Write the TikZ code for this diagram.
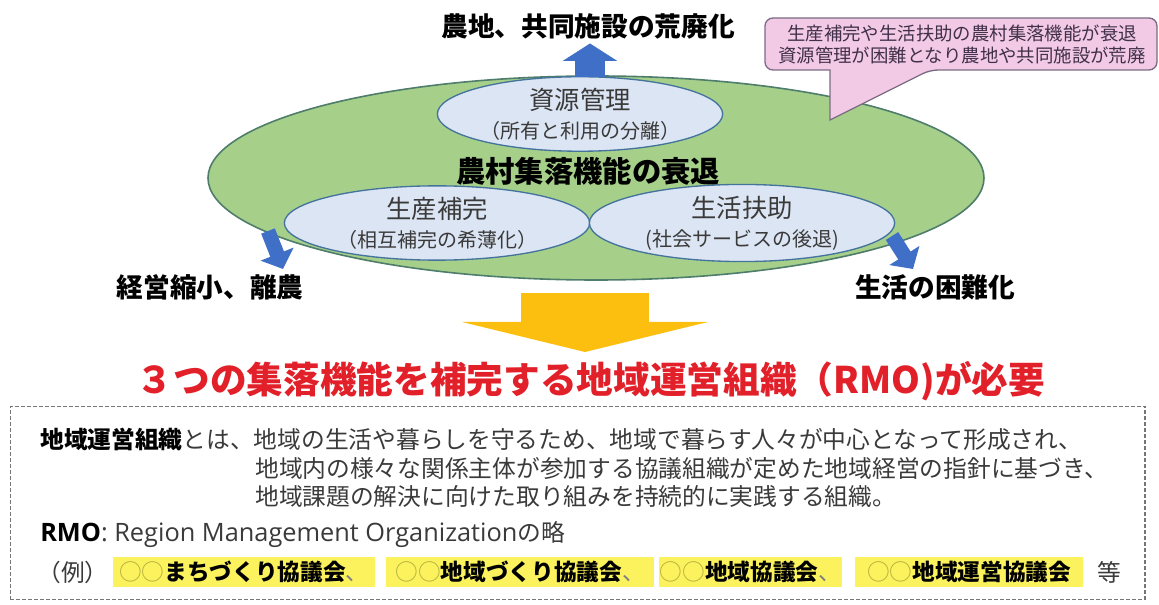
\documentclass[tikz,border=0pt]{standalone}
\usepackage{fontspec}
\setmainfont{Noto Sans CJK JP}
\newfontfamily\latinfont{Open Sans}
\usetikzlibrary{shapes.geometric,arrows.meta}
\definecolor{ruralgreen}{HTML}{A6D08A}
\definecolor{ruraledge}{HTML}{4E7D6B}
\definecolor{funcblue}{HTML}{DCE5F3}
\definecolor{funcedge}{HTML}{44739C}
\definecolor{arrowblue}{HTML}{3F6FC6}
\definecolor{arrowgold}{HTML}{FDBF0F}
\definecolor{notepink}{HTML}{F3CAE5}
\definecolor{noteedge}{HTML}{7B6B82}
\definecolor{notetext}{HTML}{40304A}
\definecolor{needred}{HTML}{E2202A}
\definecolor{markyellow}{HTML}{FBF25E}
\definecolor{circleolive}{HTML}{B3AC3C}
\definecolor{bodygray}{HTML}{3A3A3A}
\definecolor{framegray}{HTML}{767676}

\begin{document}
\begin{tikzpicture}[x=0.75pt,y=-0.75pt,
  rural/.style={ellipse,draw=ruraledge,fill=ruralgreen,line width=1.2pt,
    minimum width=582pt,minimum height=153pt},
  func/.style={ellipse,draw=funcedge,fill=funcblue,line width=1pt,inner sep=0pt,
    minimum height=50pt,align=center,text=bodygray,font=\fontsize{19}{22}\selectfont},
  effect/.style={font=\bfseries\fontsize{20}{24}\selectfont},
  upblue/.style={arrowblue,line width=22pt,-{Triangle[width=40pt,length=13pt]}},
  outblue/.style={arrowblue,line width=11pt,-{Triangle[width=26pt,length=12pt]}},
  goldflow/.style={arrowgold,line width=96pt,-{Triangle[width=184pt,length=22.5pt]}},
  notebox/.style={fill=notepink,draw=noteedge,line width=1pt},
  frame/.style={draw=framegray,line width=1pt,dash pattern=on 3pt off 1.5pt,
    minimum width=851pt,minimum height=145pt},
  body/.style={anchor=west,inner sep=0pt,text=bodygray,font=\fontsize{17.8}{21}\selectfont},
  hilite/.style={anchor=west,fill=markyellow,inner sep=0pt,minimum height=22.5pt,
    text=black,font=\fontsize{17}{20}\selectfont}]
  \useasboundingbox (0,0) rectangle (1159,605);

  % ellipses
  \node[rural] (rural) at (596,178) {};
  \node[func,minimum width=214pt] (res) at (580,114)
    {資源管理\\\fontsize{15}{18}\selectfont （所有と利用の分離）};
  \node[func,minimum width=229pt] (prod) at (437,223)
    {生産補完\\\fontsize{15}{18}\selectfont （相互補完の希薄化）};
  \node[func,minimum width=229pt] (life) at (742,223)
    {生活扶助\\\fontsize{15}{18}\selectfont (社会サービスの後退)};
  \node[font=\bfseries\fontsize{22}{26}\selectfont] (decline) at (588,171) {農村集落機能の衰退};

  % effects
  \node[effect] (ruin) at (588,26) {農地、共同施設の荒廃化};
  \node[effect] (quit) at (210,287) {経営縮小、離農};
  \node[effect] (hard) at (935,287) {生活の困難化};

  \coordinate (upfoot) at (590,77);
  \coordinate (lfoot) at (268,231);
  \coordinate (ltip) at (283,269);
  \coordinate (rfoot) at (892,236);
  \coordinate (rtip) at (913,269);
  \draw[upblue] (upfoot) -- (upfoot |- ruin.south);
  \draw[outblue] (lfoot) -- (ltip);
  \draw[outblue] (rfoot) -- (rtip);

  % balloon
  \filldraw[notebox] (830,120) -- (830,70) [rounded corners=6pt] -- (765,70) -- (765,18)
    -- (1157,18) -- (1157,70) -- (930,70) [sharp corners] -- cycle;
  \node[align=center,text=notetext,font=\fontsize{13.8}{16.5}\selectfont] (note) at (962,44)
    {生産補完や生活扶助の農村集落機能が衰退\\資源管理が困難となり農地や共同施設が荒廃};

  % need
  \coordinate (flowtop) at (585,293);
  \coordinate (flowtip) at (585,352);
  \draw[goldflow] (flowtop) -- (flowtip);
  \node[text=needred,font=\bfseries\fontsize{27.5}{32}\selectfont] (need) at (591,381)
    {３つの集落機能を補完する地域運営組織（RMO)が必要};

  % definition
  \node[frame] (frame) at (577.5,503) {};
  \node[body] (def1) at (40,440) {\textbf{\color{black}地域運営組織}とは、地域の生活や暮らしを守るため、地域で暮らす人々が中心となって形成され、};
  \node[body] (def2) at (255,469) {地域内の様々な関係主体が参加する協議組織が定めた地域経営の指針に基づき、};
  \node[body] (def3) at (255,497) {地域課題の解決に向けた取り組みを持続的に実践する組織。};
  \node[body] (abbr) at (40,535) {{\latinfont\fontsize{19}{21}\selectfont\textbf{\color{black}RMO}: Region Management Organization}の略};
  \node[body] (eg) at (37,572) {（例）};
  \node[hilite,minimum width=196pt] (m1) at (113,572) {{\color{circleolive}○○}\textbf{まちづくり協議会}{\color{gray}、}};
  \node[hilite,minimum width=201pt] (m2) at (386,572) {{\color{circleolive}○○}\textbf{地域づくり協議会}{\color{gray}、}};
  \node[hilite,minimum width=137pt] (m3) at (659,572) {{\color{circleolive}○○}\textbf{地域協議会}{\color{gray}、}};
  \node[hilite,minimum width=171pt] (m4) at (855,572) {{\color{circleolive}○○}\textbf{地域運営協議会}};
  \node[body] (etc) at (1097,572) {等};
\end{tikzpicture}
\end{document}
